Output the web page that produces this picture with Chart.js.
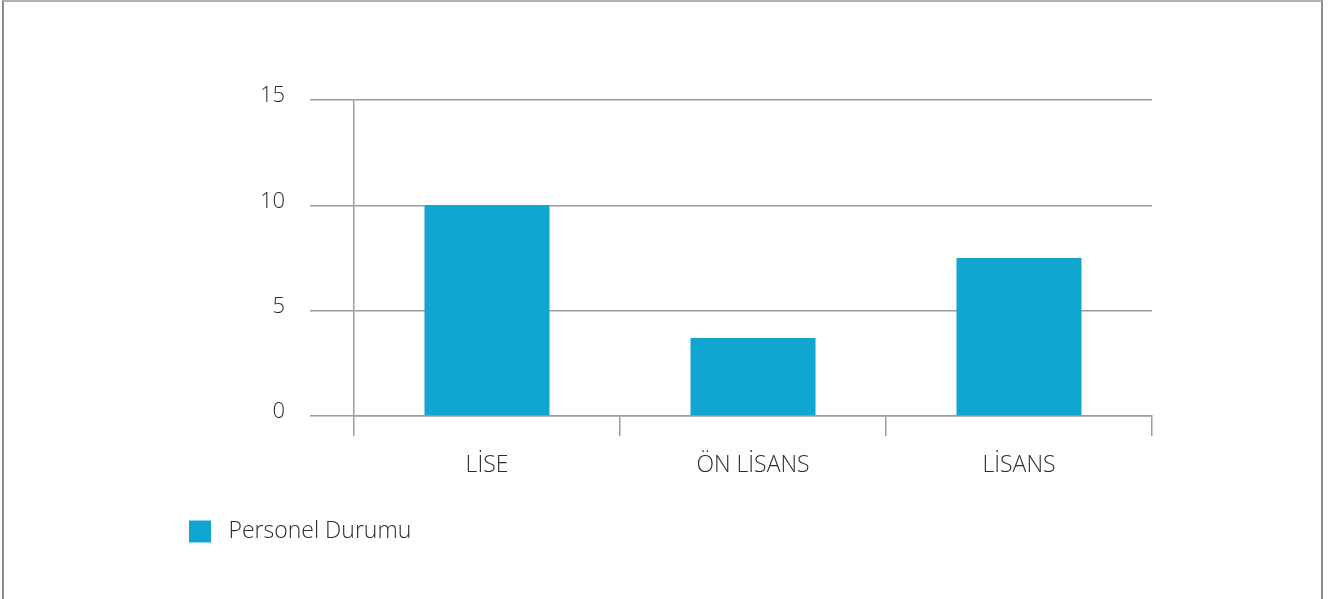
<!DOCTYPE html>
<html>
<head>
<meta charset="utf-8">
<script src="https://cdn.jsdelivr.net/npm/chart.js@4"></script>
<style>
  body { margin: 0; background: #fff; }
  #wrap { position: relative; width: 1335px; height: 599px; overflow: hidden; }
  #frame {
    position: absolute; left: 2px; top: 0px; width: 1317px; height: 640px;
    border-left: 2px solid #8c8c8c; border-right: 2px solid #8c8c8c; border-top: 2px solid #b0b0b6;
  }
  canvas { position: absolute; left: 0; top: 0; }
</style>
</head>
<body>
<div id="wrap">
  <div id="frame"></div>
  <canvas id="my-chart" width="1335" height="599"></canvas>
</div>
<script>
var categories = ["LİSE", "ÖN LİSANS", "LİSANS"]
var personel = [10, 3.7, 7.5]
var yTicks = [0, 5, 10, 15]

var barColor = "#11A5D1"
var lineColor = "#9c9ca3"
var textColor = "#2e2e2e"
var fontFamily = "'Open Sans', 'Noto Sans', sans-serif"

var ctx = document.getElementById("my-chart").getContext('2d')

var chart = new Chart(ctx, {
    type: 'bar',
    data: {
        labels: categories,
        datasets: [
            {
                label: "Personel Durumu",
                data: personel,
                backgroundColor: barColor,
                categoryPercentage: 1,
                barPercentage: 0.47
            }
        ]
    },
    options: {
        responsive: false,
        animation: false,
        layout: {
            padding: { left: 179, right: 183, top: 100, bottom: 46 }
        },
        plugins: {
            tooltip: { enabled: false },
            legend: {
                position: 'bottom',
                align: 'start',
                labels: {
                    boxWidth: 22,
                    boxHeight: 22,
                    padding: 10,
                    color: textColor,
                    font: { family: fontFamily, size: 23, weight: 300 },
                    generateLabels: function(chart) {
                        // a little extra gap between the swatch and the text
                        var items = Chart.defaults.plugins.legend.labels.generateLabels(chart)
                        items.forEach(function(it) { it.text = " " + it.text })
                        return items
                    }
                }
            }
        },
        scales: {
            x: {
                offset: true,
                afterFit: function(scale) { scale.height = 94 },
                grid: {
                    offset: true,
                    drawOnChartArea: false,
                    drawTicks: true,
                    tickLength: 20,
                    color: lineColor,
                    lineWidth: 1.5
                },
                border: { color: lineColor, width: 1.5 },
                ticks: {
                    padding: 16,
                    color: textColor,
                    font: { family: fontFamily, size: 23, weight: 300 }
                }
            },
            y: {
                min: 0,
                max: 15,
                afterFit: function(scale) { scale.width = 175 },
                afterBuildTicks: function(scale) {
                    scale.ticks = yTicks.map(function(v) { return { value: v } })
                },
                grid: {
                    color: lineColor,
                    lineWidth: 1.5,
                    tickLength: 44
                },
                border: { color: lineColor, width: 1.5 },
                ticks: {
                    padding: 25,
                    labelOffset: -4,
                    color: textColor,
                    font: { family: fontFamily, size: 22, weight: 300 }
                }
            }
        }
    }
})
</script>
</body>
</html>
